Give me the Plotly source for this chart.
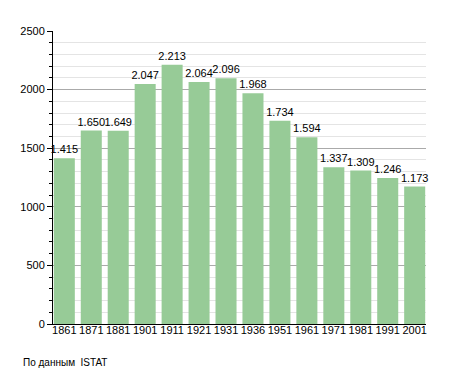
import plotly.graph_objects as go

years = ["1861", "1871", "1881", "1901", "1911", "1921", "1931", "1936", "1951", "1961", "1971", "1981", "1991", "2001"]
population = [1415, 1650, 1649, 2047, 2213, 2064, 2096, 1968, 1734, 1594, 1337, 1309, 1246, 1173]
labels = [f"{v:,}".replace(",", ".") for v in population]

fig = go.Figure(go.Bar(
    x=years, y=population, text=labels, textposition="outside", constraintext="none",
    marker=dict(color="#97cb97", line=dict(width=0)),
    textfont=dict(color="black", size=11, family="Liberation Sans, Arial"),
    cliponaxis=False,
))

# page has an 8px body margin; figure sized to fill the rest of the window
fig.update_layout(
    width=447, height=365,
    margin=dict(l=42, r=29, t=23, b=49),
    paper_bgcolor="white", plot_bgcolor="white",
    bargap=0.22, showlegend=False,
    font=dict(family="Liberation Sans, Arial", size=11, color="black"),
    annotations=[dict(text="По данным  ISTAT", xref="paper", yref="paper",
                      x=(10 - 42) / 376, y=-(354 - 316) / 293,
                      xanchor="left", yanchor="middle",
                      showarrow=False, font=dict(size=10))],
)
fig.update_xaxes(showline=True, linecolor="black", linewidth=1, ticks="", showgrid=False,
                 range=[-0.42, len(years) - 0.58], ticklabelstandoff=-4,
                 tickfont=dict(size=11))
fig.update_yaxes(range=[0, 2500], dtick=500, showline=True, linecolor="black", linewidth=1,
                 ticks="outside", ticklen=5, tickcolor="black",
                 showgrid=True, gridcolor="#aaaaaa", gridwidth=1, zeroline=False,
                 minor=dict(dtick=100, showgrid=True, gridcolor="#e4e4e4", ticks="outside",
                            ticklen=3, tickcolor="black"),
                 tickfont=dict(size=11))

fig.write_html("out.html")
